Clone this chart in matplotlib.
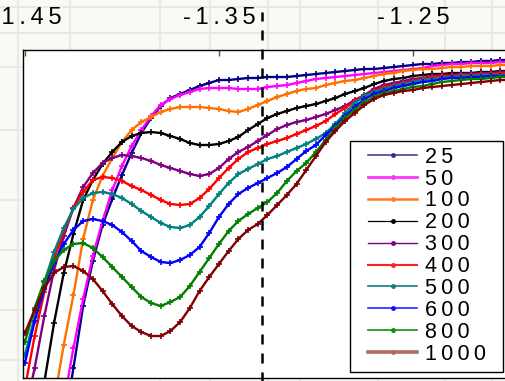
import numpy as np
import matplotlib
matplotlib.use("Agg")
import matplotlib.pyplot as plt
from matplotlib.lines import Line2D
from matplotlib.patches import Rectangle

plt.rcParams['font.family'] = ['Liberation Sans', 'DejaVu Sans']
nan = np.nan

# potential (V), common scan grid
potential = [-1.450, -1.445, -1.440, -1.435, -1.430, -1.425, -1.420, -1.415, -1.410, -1.405,
             -1.400, -1.395, -1.390, -1.385, -1.380, -1.375, -1.370, -1.365, -1.360, -1.355,
             -1.350, -1.345, -1.340, -1.335, -1.330, -1.325, -1.320, -1.315, -1.310, -1.305,
             -1.300, -1.295, -1.290, -1.285, -1.280, -1.275, -1.270, -1.265, -1.260, -1.255,
             -1.250, -1.245, -1.240, -1.235, -1.230, -1.225, -1.220, -1.215, -1.210, -1.205,
             -1.200]

# current, arbitrary units
i25 = [nan, nan, nan, nan, -50, 10, 72, 117, 153, 179, 203, 225, 245, 260, 272, 280, 284, 288,
       292, 295, 298, 298, 299, 300, 300, 301, 301, 301, 302, 303, 304, 305, 306, 307, 308, 309,
       309, 310, 311, 312, 313, 314, 314, 315, 315, 316, 316, 317, 317, 318, 318]
i50 = [nan, nan, nan, nan, -25, 30, 79, 122, 157, 188, 212, 232, 248, 262, 273, 279, 283, 286,
       289, 290, 290, 290, 289, 289, 289, 291, 292, 293, 295, 297, 299, 300, 301, 302, 303, 304,
       305, 306, 307, 308, 309, 310, 312, 313, 314, 314, 315, 315, 315, 316, 316]
i100 = [nan, nan, nan, -23, 33, 83, 139, 178, 202, 220, 236, 248, 256, 261, 266, 269, 271, 271,
        271, 270, 269, 267, 266, 269, 273, 277, 281, 284, 287, 289, 290, 293, 295, 297, 298, 300,
        302, 304, 305, 307, 308, 309, 309, 310, 311, 311, 312, 312, 312, 313, 313]
i200 = [nan, nan, -4, 55, 105, 144, 178, 198, 214, 226, 236, 242, 245, 246, 245, 242, 239, 235,
        233, 233, 234, 237, 241, 248, 254, 260, 264, 267, 270, 272, 274, 277, 280, 284, 287, 290,
        294, 297, 299, 300, 302, 303, 304, 304, 305, 305, 305, 306, 306, 307, 307]
i300 = [-36, 10, 62, 108, 142, 170, 191, 205, 215, 220, 223, 222, 220, 217, 213, 210, 207, 204,
        202, 204, 210, 219, 226, 231, 237, 243, 249, 253, 256, 258, 261, 264, 268, 272, 278, 283,
        289, 293, 295, 297, 299, 300, 302, 303, 303, 304, 304, 305, 305, 306, 306]
i400 = [-10, 42, 86, 119, 147, 170, 186, 198, 201, 200, 197, 192, 188, 183, 178, 174, 173, 174,
        180, 189, 200, 210, 219, 226, 230, 234, 237, 240, 244, 248, 252, 257, 264, 270, 277, 282,
        287, 291, 293, 295, 297, 299, 301, 302, 302, 303, 303, 304, 304, 305, 305]
i500 = [23, 61, 96, 126, 150, 169, 180, 185, 186, 184, 180, 174, 167, 161, 155, 151, 150, 153,
        161, 172, 184, 195, 204, 209, 214, 219, 222, 226, 230, 234, 239, 245, 254, 265, 275, 282,
        286, 289, 292, 294, 296, 298, 299, 300, 301, 302, 302, 303, 303, 303, 303]
i600 = [15, 57, 89, 115, 134, 148, 157, 159, 157, 153, 146, 137, 127, 121, 116, 115, 118, 123,
        131, 145, 161, 174, 184, 190, 195, 200, 205, 211, 219, 227, 233, 243, 252, 262, 271, 279,
        284, 287, 290, 292, 294, 296, 297, 299, 300, 300, 301, 301, 302, 302, 302]
i800 = [36, 70, 97, 117, 128, 134, 135, 130, 121, 111, 101, 91, 81, 75, 72, 76, 81, 92,
        106, 120, 134, 147, 157, 164, 170, 176, 185, 197, 207, 215, 226, 238, 250, 260, 268, 276,
        281, 285, 287, 289, 291, 292, 294, 296, 297, 298, 299, 299, 300, 301, 301]
i1000 = [45, 68, 90, 105, 111, 112, 107, 99, 87, 74, 62, 52, 46, 42, 42, 47, 56, 70,
         87, 101, 114, 127, 139, 148, 154, 163, 173, 183, 194, 208, 222, 236, 247, 257, 265, 273,
         279, 283, 285, 287, 288, 290, 291, 292, 293, 294, 295, 296, 297, 298, 298]

labels = ['25', '50', '100', '200', '300', '400', '500', '600', '800', '1000']
series = [i25, i50, i100, i200, i300, i400, i500, i600, i800, i1000]
colors = ['#000080', '#ff00ff', '#ff7000', '#000000', '#800080',
          '#ff0000', '#008080', '#0000ff', '#008000', '#800000']
leg_colors = ['#33338f', '#ff33ff', '#ff7a22', '#000000', '#800080',
              '#ff2020', '#108080', '#1010ff', '#109010', '#b06a6a']
leg_widths = [1.1, 2.0, 1.8, 0.9, 1.0, 1.5, 1.2, 1.1, 1.2, 2.6]
ticks = [-1.45, -1.35, -1.25]
marker_v = -1.328


def spaced(s):
    return '\u2009'.join(s)


fig = plt.figure(figsize=(5.05, 3.81), dpi=100, facecolor='#f9f9f6')

# faint slide background grid
for px in [18, 70, 160, 210, 268, 300, 378, 445, 492]:
    fig.add_artist(Line2D([px / 505, px / 505], [0, 1], color='#e9e9e3', lw=1.5, zorder=-1))
for py in [7, 33, 67, 130, 200, 250, 310, 360]:
    fig.add_artist(Line2D([0, 1], [1 - py / 381, 1 - py / 381], color='#e9e9e3', lw=1.5, zorder=-1))

ax = fig.add_axes([23 / 505, 3 / 381, 492 / 505, 328 / 381])
ax.set_facecolor('white')

for y, c in zip(series, colors):
    ax.plot(potential, y, color=c, lw=1.7, marker='+', ms=4.5, mew=1.2)

ax.set_xlim(-1.4510, -1.1974)
ax.set_ylim(0, 328)

ax.axvline(marker_v, ymin=-0.02, ymax=1.116, color='black', lw=1.8,
           linestyle=(0, (4, 3.6)), clip_on=False, zorder=4)

ax.xaxis.tick_top()
ax.set_xticks(ticks)
ax.set_xticklabels([spaced('%.2f' % t) for t in ticks])
ax.tick_params(axis='x', direction='in', length=4, width=1, color='#555555',
               pad=15, labelsize=17, top=True, bottom=False)
ax.set_yticks([])
ax.spines['right'].set_visible(False)
for s in ['left', 'top', 'bottom']:
    ax.spines[s].set_linewidth(1.0)

# legend box
ax.add_patch(Rectangle((0.665, 0.018), 0.311, 0.705, transform=ax.transAxes,
                       facecolor='white', edgecolor='black', lw=1.0, zorder=5, clip_on=False))
handles = [Line2D([], [], color=c, lw=w, marker='.', ms=5)
           for c, w in zip(leg_colors, leg_widths)]
leg = ax.legend(handles, [spaced(l) for l in labels], loc='upper left',
                bbox_to_anchor=(0.701, 0.705), frameon=False, borderpad=0,
                borderaxespad=0, handlelength=2.3, handletextpad=0.35,
                labelspacing=0.04, prop={'family': ['Liberation Sans', 'DejaVu Sans'], 'size': 15.5})
leg.set_zorder(6)

fig.savefig('out.png', dpi=100, facecolor=fig.get_facecolor())
